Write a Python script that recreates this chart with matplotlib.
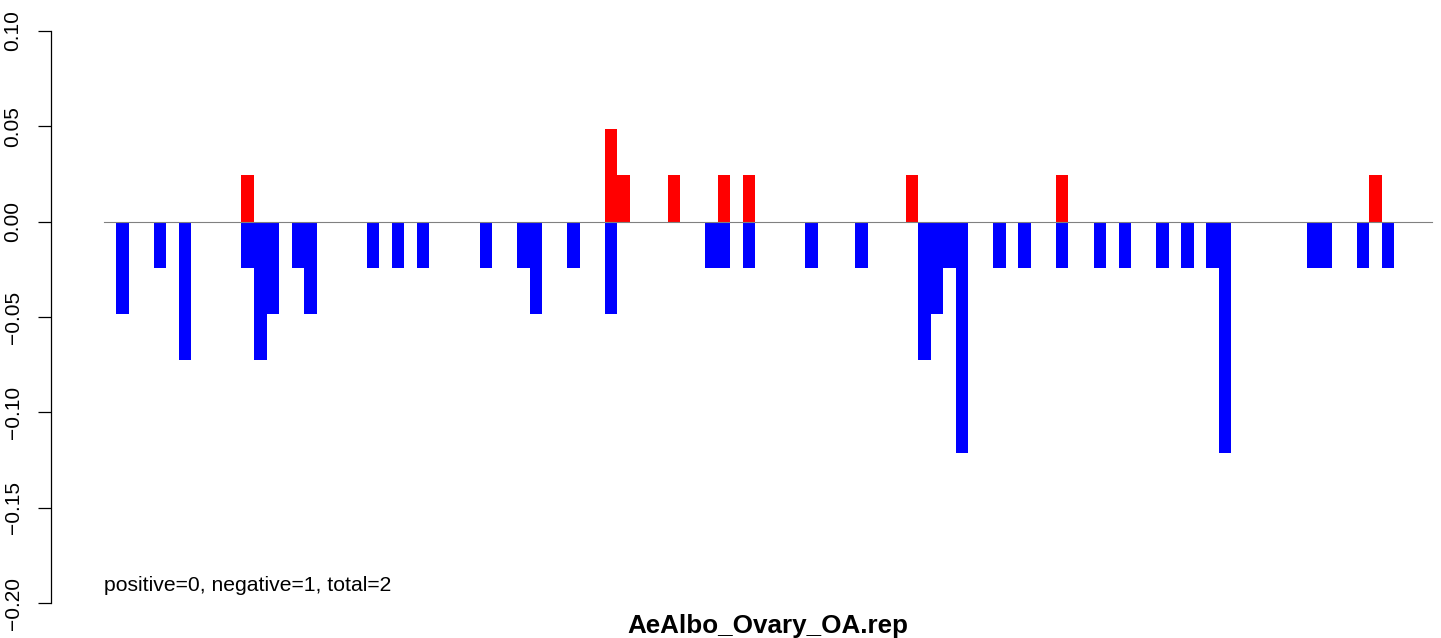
import matplotlib
matplotlib.use("Agg")
import matplotlib.pyplot as plt
import numpy as np

plt.rcParams['font.family'] = ['Liberation Sans', 'DejaVu Sans']

# ---- data ----
n_bins = 106

pos_bins = [11, 40, 41, 45, 49, 51, 64, 76, 101]
pos_vals = [0.0242, 0.0484, 0.0242, 0.0242, 0.0242, 0.0242, 0.0242, 0.0242, 0.0242]

neg_bins = [1, 4, 6, 11, 12, 13, 15, 16, 21, 23, 25, 30, 33, 34, 37, 40, 48, 49, 51,
            56, 60, 65, 66, 67, 68, 71, 73, 76, 79, 81, 84, 86, 88, 89, 96, 97, 100, 102]
neg_vals = [-0.0484, -0.0242, -0.0726, -0.0242, -0.0726, -0.0484, -0.0242, -0.0484,
            -0.0242, -0.0242, -0.0242, -0.0242, -0.0242, -0.0484, -0.0242, -0.0484,
            -0.0242, -0.0242, -0.0242, -0.0242, -0.0242, -0.0726, -0.0484, -0.0242,
            -0.1210, -0.0242, -0.0242, -0.0242, -0.0242, -0.0242, -0.0242, -0.0242,
            -0.0242, -0.1210, -0.0242, -0.0242, -0.0242, -0.0242]

y_ticks = [-0.20, -0.15, -0.10, -0.05, 0.00, 0.05, 0.10]
note = "positive=0, negative=1, total=2"
title = "AeAlbo_Ovary_OA.rep"

# ---- figure ----
W, H = 1441, 638
fig = plt.figure(figsize=(W / 100, H / 100), dpi=100)

left_px, right_px = 50.5, 1485.0
top_px, bot_px = 7.8, 626.2
ax = fig.add_axes([left_px / W, (H - bot_px) / H,
                   (right_px - left_px) / W, (bot_px - top_px) / H])

pad_x = 0.04 * n_bins
ax.set_xlim(-pad_x, n_bins + pad_x)
ax.set_ylim(-0.212, 0.112)

ax.bar(pos_bins, pos_vals, width=1.0, align='edge', color='#ff0000', linewidth=0)
ax.bar(neg_bins, neg_vals, width=1.0, align='edge', color='#0000ff', linewidth=0)
ax.plot([0, n_bins], [0, 0], color='#808080', lw=0.8, zorder=3)

for s in ['top', 'right', 'bottom']:
    ax.spines[s].set_visible(False)
ax.spines['left'].set_bounds(-0.20, 0.10)
ax.spines['left'].set_linewidth(0.9)
ax.set_xticks([])
ax.set_yticks(y_ticks)
ax.set_yticklabels([f"{v:.2f}".replace('-', '\u2212') for v in y_ticks],
                   rotation=90, va='center', fontsize=15)
ax.tick_params(axis='y', length=9.6, width=0.9, pad=10.5)

ax.text(0.05, -0.1935, note, fontsize=15.2, ha='left', va='baseline')

fig.text((left_px + right_px) / 2 / W, (H - 632.7) / H, title,
         fontsize=18.7, fontweight='bold', ha='center', va='baseline')

fig.savefig("out.png", dpi=100)
